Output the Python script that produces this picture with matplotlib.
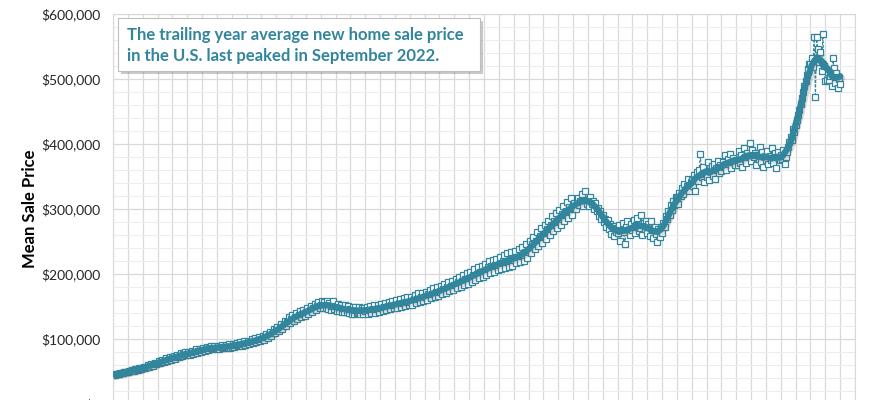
import numpy as np
import pandas as pd
import matplotlib
matplotlib.use("Agg")
import matplotlib.pyplot as plt
from matplotlib import patheffects as pe
from matplotlib.patches import Rectangle
from matplotlib.ticker import MultipleLocator, FuncFormatter

plt.rcParams['font.family'] = ['Lato', 'DejaVu Sans']

# Monthly mean new home sale price (thousands of $), Jan 1975 onward, one row per year
monthly_k = [
    [44.5, 45.2, 45.0, 46.1, 46.6, 46.2, 47.4, 47.9, 47.5, 48.6, 49.2, 48.9],          # 1975
    [49.8, 51.4, 50.1, 52.2, 51.8, 50.5, 53.6, 53.1, 51.8, 54.9, 54.5, 53.2],          # 1976
    [55.3, 57.5, 55.0, 57.1, 59.4, 57.2, 59.4, 61.6, 58.8, 61.3, 63.5, 61.4],          # 1977
    [63.5, 66.3, 62.8, 65.2, 68.0, 64.7, 67.1, 70.1, 66.3, 68.9, 71.8, 68.2],          # 1978
    [70.4, 73.6, 69.9, 72.6, 76.0, 71.8, 74.6, 77.8, 73.4, 76.2, 79.4, 75.1],          # 1979
    [76.8, 80.1, 75.9, 78.6, 81.8, 77.4, 80.3, 83.9, 79.2, 81.8, 85.1, 80.6],          # 1980
    [82.8, 86.4, 82.0, 84.6, 88.3, 83.1, 85.4, 89.2, 83.9, 86.1, 89.8, 84.5],          # 1981
    [85.9, 89.6, 84.7, 87.0, 90.8, 85.4, 87.5, 91.4, 85.6, 87.8, 91.9, 86.5],          # 1982
    [88.3, 92.2, 87.2, 90.1, 93.9, 88.7, 91.5, 95.4, 89.9, 92.8, 96.8, 91.2],          # 1983
    [93.4, 97.6, 92.1, 95.3, 99.6, 93.8, 96.9, 101.3, 95.2, 98.5, 103.0, 96.9],        # 1984
    [99.8, 104.6, 98.7, 103.0, 108.1, 101.9, 106.2, 111.5, 105.0, 109.8, 115.3, 108.6],  # 1985
    [113.2, 119.0, 111.8, 117.5, 123.4, 115.7, 122.0, 128.2, 120.1, 126.8, 133.2, 124.6],  # 1986
    [131.0, 137.2, 128.4, 134.5, 140.3, 131.2, 136.9, 142.8, 133.4, 139.2, 145.1, 135.6],  # 1987
    [141.2, 147.9, 138.6, 145.0, 151.4, 141.9, 148.1, 154.6, 144.8, 151.3, 157.2, 147.5],  # 1988
    [152.4, 158.9, 148.3, 156.6, 147.2, 157.8, 146.1, 155.2, 145.0, 151.4, 157.8, 145.6],  # 1989
    [150.6, 143.5, 153.4, 142.7, 152.1, 141.9, 147.6, 140.8, 151.9, 141.6, 150.2, 140.4],  # 1990
    [145.4, 138.9, 148.6, 138.1, 149.3, 139.5, 142.1, 148.6, 137.8, 147.5, 139.0, 148.1],  # 1991
    [142.9, 149.3, 138.2, 144.4, 150.9, 139.7, 145.9, 151.8, 140.5, 146.9, 152.6, 141.9],  # 1992
    [147.5, 153.9, 142.9, 149.2, 155.8, 144.6, 150.4, 157.2, 145.7, 151.7, 158.1, 147.0],  # 1993
    [152.3, 159.8, 147.2, 154.8, 161.6, 149.6, 155.4, 163.0, 150.3, 157.3, 164.1, 151.8],  # 1994
    [157.2, 165.0, 152.4, 160.9, 167.8, 155.2, 162.2, 170.1, 156.5, 163.9, 171.5, 158.3],  # 1995
    [164.1, 173.0, 160.4, 168.6, 176.1, 162.5, 169.8, 178.4, 164.0, 172.1, 180.0, 166.1],  # 1996
    [172.8, 181.5, 168.6, 177.5, 185.3, 171.2, 179.3, 188.1, 173.4, 181.9, 190.0, 175.3],  # 1997
    [182.4, 192.3, 177.9, 187.9, 196.0, 180.5, 189.4, 198.9, 183.0, 192.2, 201.2, 185.3],  # 1998
    [193.6, 203.4, 188.3, 198.8, 207.6, 191.3, 200.6, 210.5, 193.7, 203.4, 212.5, 196.0],  # 1999
    [204.8, 215.6, 199.0, 210.6, 219.4, 202.0, 211.7, 222.0, 203.7, 213.6, 223.6, 205.8],  # 2000
    [213.5, 225.6, 207.6, 219.6, 229.8, 209.9, 220.4, 231.9, 211.1, 221.5, 233.5, 212.6],  # 2001
    [221.6, 235.8, 216.2, 226.4, 238.2, 217.9, 229.3, 241.9, 220.6, 233.8, 245.7, 225.3],  # 2002
    [237.5, 250.5, 232.4, 245.6, 257.0, 238.5, 251.2, 264.3, 243.1, 257.9, 270.2, 248.0],  # 2003
    [261.8, 274.7, 254.3, 269.9, 281.6, 260.2, 275.6, 288.7, 265.6, 281.4, 294.5, 270.8],  # 2004
    [284.6, 299.2, 275.4, 292.8, 305.2, 281.6, 297.5, 311.1, 285.7, 303.2, 317.2, 290.4],  # 2005
    [302.7, 309.8, 300.5, 311.6, 316.9, 306.3, 312.7, 322.4, 304.8, 313.2, 327.6, 307.1],  # 2006
    [314.0, 305.2, 318.9, 308.1, 312.5, 299.8, 309.4, 296.7, 302.1, 288.9, 297.3, 284.6],  # 2007
    [290.8, 279.4, 284.2, 271.6, 282.5, 268.9, 276.3, 262.1, 273.8, 258.7, 270.4, 265.2],  # 2008
    [262.8, 275.6, 251.4, 268.3, 279.1, 264.7, 246.5, 272.9, 281.4, 267.2, 259.8, 276.5],  # 2009
    [268.4, 283.7, 262.9, 275.1, 286.2, 266.8, 271.5, 290.4, 259.6, 277.9, 269.3, 281.2],  # 2010
    [263.7, 276.8, 258.4, 281.5, 267.2, 254.9, 272.6, 261.3, 249.8, 268.7, 257.4, 271.9],  # 2011
    [262.4, 278.5, 271.9, 289.6, 284.3, 296.8, 290.2, 305.7, 298.4, 312.6, 306.9, 318.3],  # 2012
    [316.8, 308.2, 324.5, 319.7, 331.6, 322.9, 338.4, 329.1, 335.8, 346.2, 327.5, 341.9],  # 2013
    [344.6, 335.2, 351.8, 327.4, 356.3, 342.9, 360.5, 384.2, 349.2, 364.8, 341.6, 353.7],  # 2014
    [349.5, 372.4, 344.8, 358.1, 366.9, 351.3, 369.7, 346.2, 362.5, 374.1, 355.8, 367.3],  # 2015
    [358.9, 371.6, 365.2, 382.7, 360.4, 376.8, 369.1, 385.3, 363.7, 378.2, 372.5, 367.9],  # 2016
    [375.8, 368.4, 389.6, 371.2, 382.5, 364.9, 393.7, 377.1, 370.3, 386.4, 380.8, 401.2],  # 2017
    [373.5, 391.2, 379.8, 386.7, 368.4, 383.1, 376.9, 395.6, 371.8, 388.3, 365.2, 381.6],  # 2018
    [374.9, 389.4, 368.7, 382.2, 376.1, 393.5, 371.3, 385.8, 362.6, 379.4, 388.1, 374.7],  # 2019
    [383.8, 376.2, 391.5, 368.9, 379.6, 387.2, 394.8, 402.6, 411.3, 406.7, 423.4, 418.9],  # 2020
    [428.5, 436.9, 445.2, 452.7, 461.8, 470.6, 479.3, 488.9, 497.4, 506.2, 515.8, 522.5],  # 2021
    [523.4, 531.8, 518.6, 565.2, 472.3, 564.8, 545.6, 526.9, 541.2, 512.7, 569.4, 520.3],  # 2022
    [496.2, 498.7, 511.5, 497.9, 504.6, 489.3, 532.1, 517.4, 494.2, 508.8, 486.1, 499.5],  # 2023
    [492.4],                                                                             # 2024
]
start_year = 1975
ylabel = "Mean Sale Price"
note_lines = ["The trailing year average new home sale price",
              "in the U.S. last peaked in September 2022."]

values = np.array([v for row in monthly_k for v in row]) * 1000.0
x = start_year + np.arange(len(values)) / 12.0
avg = pd.Series(values).rolling(12, center=True, min_periods=1).mean().to_numpy()

teal = '#31859c'
fig = plt.figure(figsize=(8.7, 4.0), dpi=100)
ax = fig.add_axes([113/870, 1 - 404/400, (855-113)/870, (404-14)/400])

ax.set_xlim(1975, 2025)
ax.set_ylim(0, 600000)
ax.xaxis.set_major_locator(MultipleLocator(1))
ax.yaxis.set_major_locator(MultipleLocator(100000))
ax.yaxis.set_minor_locator(MultipleLocator(20000))
ax.grid(which='major', axis='both', color='#d9d9d9', lw=0.9)
ax.grid(which='minor', axis='y', color='#ededed', lw=0.8)
ax.set_axisbelow(True)
for s in ax.spines.values():
    s.set_color('#d9d9d9')
ax.tick_params(axis='x', length=0, labelbottom=False)
ax.tick_params(axis='y', which='both', length=0, labelsize=10, labelcolor='#262626', pad=9)
ax.yaxis.set_major_formatter(FuncFormatter(lambda v, p: f"${v:,.0f}"))
ax.set_ylabel(ylabel, fontsize=12, fontweight='bold', color='black', labelpad=2)

ax.plot(x, values, ls=(0, (2.5, 1.5)), lw=0.8, color=teal, marker='s', ms=4,
        mfc='white', mec=teal, mew=0.9, zorder=2)
ax.plot(x, avg, lw=4.6, color=teal, solid_capstyle='round', zorder=3,
        path_effects=[pe.SimpleLineShadow(offset=(1.5, -1.5), shadow_color='#666666', alpha=0.22),
                      pe.Normal()])

box = Rectangle((118/870, 1 - 71/400), (480-118)/870, (71-18)/400, transform=fig.transFigure,
                facecolor='white', edgecolor='#bfbfbf', lw=0.8, zorder=5,
                path_effects=[pe.SimplePatchShadow(offset=(2.5, -2.5), alpha=0.3), pe.Normal()])
fig.patches.append(box)
fig.text(127/870, 1 - 35/400, note_lines[0], color=teal, fontsize=12, fontweight='bold',
         va='center', ha='left', zorder=6)
fig.text(127/870, 1 - 56/400, note_lines[1], color=teal, fontsize=12, fontweight='bold',
         va='center', ha='left', zorder=6)

fig.savefig('out.png', dpi=100)
